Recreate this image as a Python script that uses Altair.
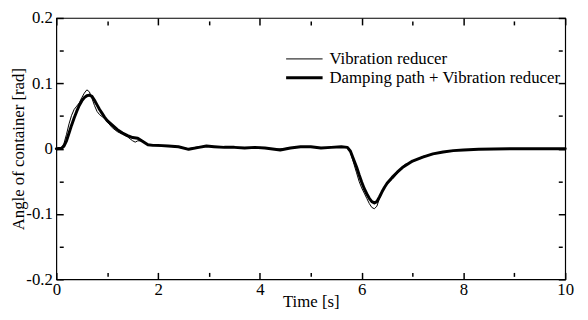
import altair as alt
import pandas as pd

# ---- data ----
SERIES = ["Vibration reducer", "Damping path + Vibration reducer"]

t_thin = [0, 0.1, 0.15, 0.2, 0.25, 0.3, 0.35, 0.4, 0.45, 0.5, 0.55, 0.6, 0.65, 0.7, 0.75,
          0.8, 0.85, 0.9, 0.95, 1.0, 1.1, 1.2, 1.3, 1.4, 1.5, 1.55, 1.6, 1.7, 1.8, 1.9,
          2.0, 2.2, 2.4, 2.6, 2.8, 3.0, 3.2, 3.5, 3.8, 4.0, 4.3, 4.6, 4.9, 5.2, 5.5, 5.72,
          5.78, 5.85, 5.9, 5.95, 6.0, 6.05, 6.1, 6.15, 6.2, 6.25, 6.3, 6.35, 6.4, 6.45,
          6.5, 6.6, 6.7, 6.8, 6.85, 6.9, 7.0, 7.2, 7.4, 7.6, 7.8, 8.0, 8.3, 8.6, 9.0, 10.0]
v_thin = [0, 0.001, 0.008, 0.022, 0.038, 0.051, 0.060, 0.065, 0.070, 0.078, 0.085, 0.090,
          0.087, 0.077, 0.066, 0.057, 0.052, 0.049, 0.046, 0.041, 0.032, 0.026, 0.022,
          0.018, 0.012, 0.010, 0.012, 0.012, 0.006, 0.005,
          0.004, 0.004, 0.002, 0.000, 0.003, 0.004, 0.002, 0.002, 0.001, 0.002, -0.001,
          0.001, 0.003, 0.001, 0.003, 0.002,
          -0.006, -0.024, -0.037, -0.050, -0.060, -0.068, -0.076, -0.084, -0.090, -0.092,
          -0.088, -0.076, -0.066, -0.059, -0.054, -0.047, -0.038, -0.028, -0.024, -0.023,
          -0.020, -0.012, -0.008, -0.005, -0.003, -0.002, -0.001, -0.0005, 0.0, 0.0]

t_thick = [0, 0.1, 0.15, 0.2, 0.25, 0.3, 0.35, 0.4, 0.45, 0.5, 0.55, 0.6, 0.65, 0.7, 0.75,
           0.8, 0.85, 0.9, 0.95, 1.0, 1.1, 1.2, 1.3, 1.4, 1.5, 1.6, 1.7, 1.8, 1.9, 2.0,
           2.2, 2.4, 2.6, 2.8, 2.95, 3.1, 3.3, 3.5, 3.7, 3.9, 4.1, 4.4, 4.6, 4.8, 5.0, 5.2,
           5.4, 5.6, 5.72, 5.78, 5.85, 5.9, 5.95, 6.0, 6.05, 6.1, 6.15, 6.2, 6.25, 6.3,
           6.35, 6.4, 6.45, 6.5, 6.6, 6.7, 6.8, 6.9, 7.0, 7.2, 7.4, 7.6, 7.8, 8.0, 8.3,
           8.6, 9.0, 9.5, 10.0]
v_thick = [0, 0.0005, 0.004, 0.012, 0.024, 0.036, 0.047, 0.057, 0.066, 0.073, 0.078, 0.081,
           0.082, 0.080, 0.074, 0.067, 0.060, 0.054, 0.048, 0.043, 0.036, 0.029, 0.024,
           0.020, 0.017, 0.016, 0.011, 0.006, 0.005, 0.005,
           0.004, 0.003, -0.001, 0.002, 0.004, 0.003, 0.002, 0.002, 0.001, 0.002, 0.001,
           -0.002, 0.001, 0.003, 0.003, 0.001, 0.002, 0.003, 0.002,
           -0.004, -0.018, -0.028, -0.040, -0.051, -0.061, -0.069, -0.076, -0.081, -0.083,
           -0.081, -0.074, -0.066, -0.059, -0.053, -0.044, -0.036, -0.029, -0.024, -0.019,
           -0.013, -0.008, -0.005, -0.003, -0.002, -0.001, -0.0005, 0.0, 0.0, 0.0]

X_TICKS = [0, 1, 2, 3, 4, 5, 6, 7, 8, 9, 10]
Y_TICKS = [-0.2, -0.15, -0.1, -0.05, 0, 0.05, 0.1, 0.15, 0.2]

df = pd.concat([
    pd.DataFrame({"t": t_thick, "v": v_thick, "series": SERIES[1]}),
    pd.DataFrame({"t": t_thin, "v": v_thin, "series": SERIES[0]}),
])

FONT = "Liberation Serif, Times New Roman, Times, serif"
W, H = 516, 265
MAJ, MIN = 7, 4
TICK_W = 1.5
X_MAJOR_TEST = "datum.value % 2 == 0"
Y_MAJOR_TEST = "abs(round(datum.value*20)) % 2 == 0"

xs = alt.Scale(domain=[0, 10], nice=False, zero=False)
ys = alt.Scale(domain=[-0.2, 0.2], nice=False)


def tick_size(test):
    return {"condition": {"test": test, "value": MAJ}, "value": MIN}


common = dict(ticks=True, tickColor="#000000", tickOpacity=1, tickWidth=TICK_W,
              domain=False, grid=False, labelFlush=False, zindex=2)

x_bottom = alt.Axis(
    orient="bottom", values=X_TICKS, title="Time [s]",
    labelExpr=X_MAJOR_TEST + " ? datum.label : ''",
    tickSize=tick_size(X_MAJOR_TEST), offset=-MAJ, labelPadding=2,
    labelFont=FONT, labelFontSize=17, labelColor="black",
    titleFont=FONT, titleFontSize=17, titleFontWeight="normal", titleColor="black",
    titleBaseline="alphabetic", titleY=28 + MAJ, **common,
)
y_left = alt.Axis(
    orient="left", values=Y_TICKS, title="Angle of container [rad]",
    labelExpr=Y_MAJOR_TEST + " ? (datum.value < -1e-9 ? '-' : '') + format(abs(datum.value), '.1~f') : ''",
    tickSize=tick_size(Y_MAJOR_TEST), offset=-MAJ, labelPadding=4,
    labelFont=FONT, labelFontSize=17, labelColor="black",
    titleFont=FONT, titleFontSize=17, titleFontWeight="normal", titleColor="black",
    titleAngle=270, titleAlign="center", titleBaseline="alphabetic",
    titleX=-33 - MAJ, titleY=H / 2, **common,
)
x_top = alt.Axis(orient="top", values=X_TICKS, title=None, labels=False,
                 tickSize=tick_size(X_MAJOR_TEST), offset=-MAJ, **common)
y_right = alt.Axis(orient="right", values=Y_TICKS, title=None, labels=False,
                   tickSize=tick_size(Y_MAJOR_TEST), offset=-MAJ, **common)

lines = alt.Chart(df).mark_line(color="black", strokeJoin="round", strokeCap="round").encode(
    x=alt.X("t:Q", scale=xs, axis=x_bottom),
    y=alt.Y("v:Q", scale=ys, axis=y_left),
    strokeWidth=alt.StrokeWidth(
        "series:N",
        scale=alt.Scale(domain=SERIES, range=[1, 3]),
        legend=alt.Legend(
            title=None, orient="none", legendX=243, legendY=33,
            symbolType="M-3,0H3", symbolSize=152, symbolStrokeColor="black",
            labelFont=FONT, labelFontSize=17, labelColor="black", labelOffset=17,
            padding=0, rowPadding=1, symbolOffset=0, labelLimit=400,
        ),
    ),
    order=alt.Order("t:Q"),
)

frame_axes = alt.Chart(df).mark_line(opacity=0).encode(
    x=alt.X("t:Q", scale=xs, axis=x_top),
    y=alt.Y("v:Q", scale=ys, axis=y_right),
    detail="series:N",
)

chart = alt.layer(lines, frame_axes).resolve_axis(
    x="independent", y="independent"
).properties(
    width=W, height=H,
    autosize=alt.AutoSizeParams(type="none"),
    padding={"left": 49, "right": 15, "top": 8, "bottom": 31},
).configure_view(stroke="black", strokeWidth=1.2)

chart.save("out.html", embed_options={"renderer": "svg", "actions": False})
